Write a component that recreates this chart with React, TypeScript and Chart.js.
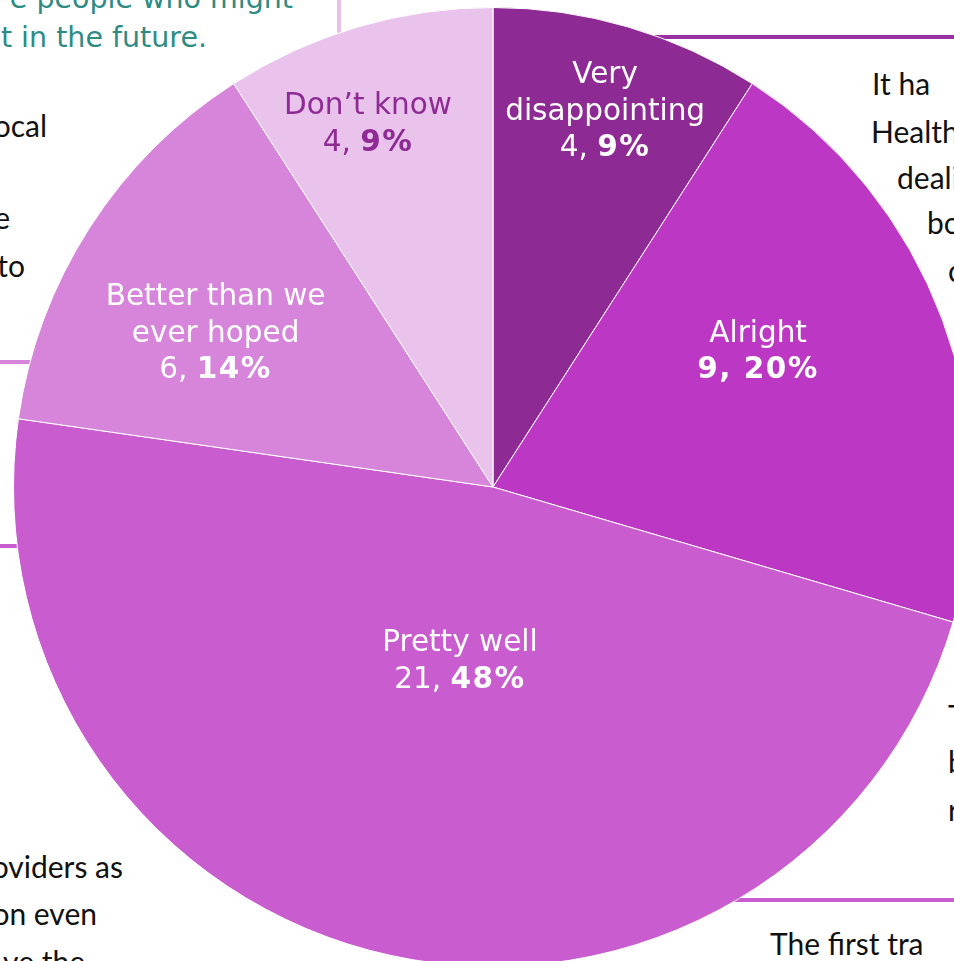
import React, { useEffect, useRef } from 'react';
import { Chart, registerables } from 'chart.js';

Chart.register(...registerables);

// ---- data ----
const CATEGORIES = ['Very\ndisappointing', 'Alright', 'Pretty well', 'Better than we\never hoped', 'Don\u2019t know'];
const VALUES = [4, 9, 21, 6, 4];
const COLORS = ['#8E2A94', '#BC38C4', '#C95CCF', '#D685DA', '#EAC3EC'];
const LABEL_COLORS = ['#FFFFFF', '#FFFFFF', '#FFFFFF', '#FFFFFF', '#8E2A94'];
const VALUE_ALL_BOLD = [false, true, false, false, false];

// ---- label placement inside each slice (fraction of slice angle, fraction of radius) ----
const LABEL_T = [0.505, 0.405, 0.492, 0.432, 0.4225];
const LABEL_R = [0.822, 0.623, 0.365, 0.664, 0.805];

const FONT_SIZE = 29.5;
const LINE_H = 36.5;

const sliceLabels = {
  id: 'sliceLabels',
  afterDatasetsDraw(chart: any) {
    const ctx = chart.ctx as CanvasRenderingContext2D;
    const meta = chart.getDatasetMeta(0);
    const total = VALUES.reduce((a, b) => a + b, 0);
    meta.data.forEach((el: any, i: number) => {
      const p = el.getProps(['x', 'y', 'startAngle', 'endAngle', 'outerRadius'], true);
      const ang = p.startAngle + (p.endAngle - p.startAngle) * LABEL_T[i];
      const rad = p.outerRadius * LABEL_R[i];
      const cx = p.x + Math.cos(ang) * rad;
      const cy = p.y + Math.sin(ang) * rad;
      const pct = Math.round((VALUES[i] / total) * 100);
      const lines: { text: string; bold: boolean }[][] = CATEGORIES[i]
        .split('\n')
        .map((t) => [{ text: t, bold: false }]);
      if (VALUE_ALL_BOLD[i]) {
        lines.push([{ text: `${VALUES[i]}, ${pct}%`, bold: true }]);
      } else {
        lines.push([
          { text: `${VALUES[i]}, `, bold: false },
          { text: `${pct}%`, bold: true },
        ]);
      }
      const n = lines.length;
      ctx.save();
      ctx.fillStyle = LABEL_COLORS[i];
      ctx.textBaseline = 'alphabetic';
      ctx.textAlign = 'left';
      const setFont = (b: boolean) => {
        ctx.font = `${b ? 'bold ' : ''}${FONT_SIZE}px "DejaVu Sans", Verdana, sans-serif`;
        (ctx as any).letterSpacing = b ? '1.5px' : '0px';
      };
      lines.forEach((segs, j) => {
        const capCenter = cy + (j - (n - 1) / 2) * LINE_H;
        const base = capCenter + FONT_SIZE * 0.365;
        let w = 0;
        const widths = segs.map((s) => {
          setFont(s.bold);
          const m = ctx.measureText(s.text).width;
          w += m;
          return m;
        });
        let x = cx - w / 2;
        segs.forEach((s, k) => {
          setFont(s.bold);
          ctx.fillText(s.text, x, base);
          x += widths[k];
        });
      });
      ctx.restore();
    });
  },
};

const HAND = 'Lato, "Open Sans", sans-serif';

export default function App() {
  const ref = useRef<HTMLCanvasElement | null>(null);

  useEffect(() => {
    if (!ref.current) return;
    const chart = new Chart(ref.current, {
      type: 'pie',
      data: {
        labels: CATEGORIES,
        datasets: [
          {
            data: VALUES,
            backgroundColor: COLORS,
            borderColor: '#FFFFFF',
            borderWidth: 1,
            hoverOffset: 0,
            offset: 0,
          },
        ],
      },
      options: {
        responsive: false,
        animation: false,
        devicePixelRatio: 1,
        events: [],
        layout: { padding: 0 },
        plugins: {
          legend: { display: false },
          tooltip: { enabled: false },
        },
      } as any,
      plugins: [sliceLabels as any],
    });
    return () => chart.destroy();
  }, []);

  return (
    <div
      style={{
        position: 'absolute',
        left: 0,
        top: 0,
        width: 954,
        height: 961,
        overflow: 'hidden',
        background: '#FFFFFF',
      }}
    >
      <svg
        width={954}
        height={961}
        style={{ position: 'absolute', left: 0, top: 0 }}
      >
        {/* box borders behind the pie */}
        <rect x={337} y={0} width={4} height={70} fill="#E8C1EB" />
        <rect x={0} y={360} width={60} height={4} fill="#D685DA" />
        <rect x={0} y={544} width={60} height={4} fill="#C95CCF" />
        <rect x={600} y={35} width={354} height={4} fill="#9B30A2" />
        <rect x={700} y={898} width={254} height={4} fill="#C95CCF" />

        {/* teal text top-left */}
        <g fontFamily='"DejaVu Sans", Verdana, sans-serif' fontSize={28.5} fill="#2E8B84">
          <text x={293} y={8} textAnchor="end">e people who might</text>
          <text x={207} y={47} textAnchor="end">t in the future.</text>
        </g>

        {/* handwritten quotes */}
        <g fontFamily={HAND} fontSize={30} fill="#111111">
          <text x={47} y={137} textAnchor="end">ocal</text>
          <text x={10} y={229} textAnchor="end">e</text>
          <text x={25} y={277} textAnchor="end">to</text>

          <text x={872} y={95}>It ha</text>
          <text x={871} y={143}>Health</text>
          <text x={897} y={189}>deali</text>
          <text x={927} y={234}>bo</text>
          <text x={948} y={282}>c</text>

          <text x={948} y={727}>T</text>
          <text x={948} y={773}>b</text>
          <text x={948} y={821}>r</text>

          <text x={123} y={878} textAnchor="end">oviders as</text>
          <text x={97} y={925} textAnchor="end">on even</text>
          <text x={85} y={973} textAnchor="end">ve the</text>

          <text x={770} y={955}>The first tra</text>
        </g>
      </svg>
      <canvas
        ref={ref}
        width={960}
        height={960}
        style={{ position: 'absolute', left: 13, top: 7, width: 960, height: 960 }}
      />
    </div>
  );
}
